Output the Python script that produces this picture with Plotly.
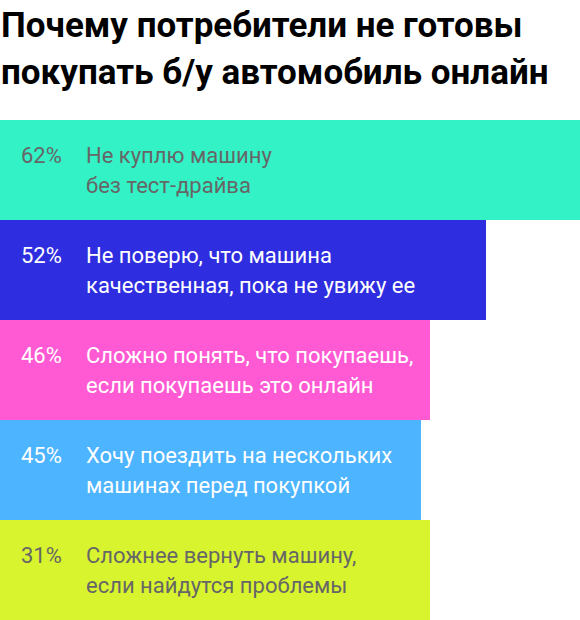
import plotly.graph_objects as go

# данные
shares = ["62%", "52%", "46%", "45%", "31%"]
reasons = [
    "Не куплю машину<br>без тест-драйва",
    "Не поверю, что машина<br>качественная, пока не увижу ее",
    "Сложно понять, что покупаешь,<br>если покупаешь это онлайн",
    "Хочу поездить на нескольких<br>машинах перед покупкой",
    "Сложнее вернуть машину,<br>если найдутся проблемы",
]
# длина полос, как они нарисованы на картинке (последняя полоса шире своего значения)
bar_len = [62, 52, 46, 45, 46]
bar_colors = ["#33f3c6", "#2e2ee0", "#ff5ad3", "#4db4ff", "#d8f42e"]
text_colors = ["#666666", "#ffffff", "#ffffff", "#ffffff", "#666666"]

W, H = 580, 620
font = "Roboto, Arial, sans-serif"
cats = [str(i) for i in range(len(shares))]

fig = go.Figure(go.Bar(
    x=bar_len,
    y=cats,
    orientation="h",
    marker=dict(color=bar_colors, line=dict(width=0)),
    hoverinfo="skip",
))

annotations = []
for c, share, reason, col in zip(cats, shares, reasons, text_colors):
    lines = reason.split("<br>")
    annotations.append(dict(
        x=20 / W, xref="paper", y=c, yref="y", yshift=15,
        text=share, showarrow=False, xanchor="left", yanchor="middle",
        xshift=-1,
        font=dict(family=font, size=22, color=col),
    ))
    for k, line in enumerate(lines):
        annotations.append(dict(
            x=85 / W, xref="paper", y=c, yref="y", yshift=15 - 30 * k,
            text=line, showarrow=False, xanchor="left", yanchor="middle",
            xshift=-1,
            font=dict(family=font, size=22, color=col),
        ))

# заголовок
annotations.append(dict(
    x=0, xref="paper", y=1, yref="paper", yshift=120 - 3, xshift=-1,
    text="<b>Почему потребители не готовы</b>",
    showarrow=False, xanchor="left", yanchor="top",
    font=dict(family=font, size=35, color="#000000"),
))
annotations.append(dict(
    x=0, xref="paper", y=1, yref="paper", yshift=120 - 50, xshift=-1,
    text="<b>покупать б/у автомобиль онлайн</b>",
    showarrow=False, xanchor="left", yanchor="top",
    font=dict(family=font, size=35, color="#000000"),
))

fig.update_layout(
    width=W, height=H,
    margin=dict(l=0, r=0, t=120, b=0),
    paper_bgcolor="white", plot_bgcolor="white",
    bargap=0,
    showlegend=False,
    xaxis=dict(range=[0, 62], visible=False, fixedrange=True),
    yaxis=dict(autorange="reversed", visible=False, fixedrange=True),
    annotations=annotations,
)

fig.write_html(
    "out.html",
    config=dict(displayModeBar=False),
    post_script="document.body.style.margin='0';",
)
